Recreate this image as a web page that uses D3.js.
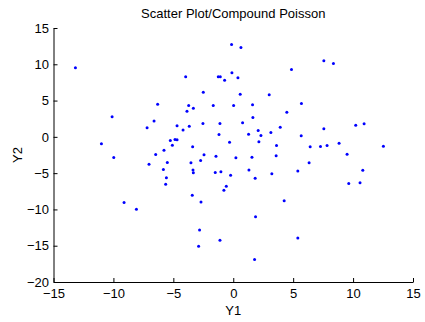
<!DOCTYPE html>
<html>
<head>
<meta charset="utf-8">
<script src="https://cdn.jsdelivr.net/npm/d3@7"></script>
<style>
  html, body { margin: 0; padding: 0; background: #fff; }
  svg text { font-family: "Liberation Sans", Arial, sans-serif; fill: #000; }
</style>
</head>
<body>
<div id="chart"></div>
<script>
const xValues = [
  -13.17, -0.14, 0.64, 7.56, 8.36, 4.86, -3.97, -1.25, -1.08, -0.72,
  -0.11, 0.39, -2.5, 0.58, 3.0, -6.31, -3.72, -3.33, -3.86, -1.67,
  0.03, 1.61, 5.69, 4.47, -10.11, -6.61, -7.19, -4.69, -3.67, -4.19,
  -2.53, -1.11, 0.78, 1.64, 3.92, 2.08, 1.28, 2.31, 3.14, 7.56,
  10.22, 10.92, 5.67, -1.19, -11.0, -9.97, -5.25, -4.86, -4.69, -5.08,
  -5.78, -6.47, -7.03, -5.5, -5.83, -5.58, -5.64, -3.39, -3.53, -3.36,
  -3.33, -2.44, -2.72, -1.44, -0.31, 0.22, -1.5, -1.03, -0.22, -0.58,
  -0.78, -3.42, -2.69, -2.81, -2.89, -1.11, -9.11, -8.08, 1.56, 1.31,
  1.83, 3.22, 3.58, 3.61, 6.42, 7.28, 7.83, 8.83, 12.53, 2.14,
  6.33, 5.39, 9.5, 9.64, 10.58, 10.81, 4.25, 1.86, 5.39, 1.78
];
const yValues = [
  9.51, 12.72, 12.31, 10.47, 10.11, 9.28, 8.27, 8.27, 8.27, 7.81,
  8.82, 8.13, 6.16, 5.88, 5.79, 4.50, 4.32, 3.95, 3.54, 4.32,
  4.32, 4.41, 4.59, 3.40, 2.76, 2.20, 1.24, 1.52, 1.47, 0.96,
  1.84, 1.84, 1.93, 2.66, 1.33, 0.87, 0.37, 0.18, 0.60, 1.10,
  1.61, 1.79, 0.14, 0.32, -0.96, -2.85, -0.51, -0.37, -0.41, -1.15,
  -1.84, -2.43, -3.77, -3.54, -4.50, -5.65, -6.52, -1.38, -3.58, -4.55,
  -4.96, -2.48, -3.26, -2.66, -0.73, -2.89, -4.92, -4.82, -5.28, -6.80,
  -7.35, -8.04, -8.96, -12.82, -15.07, -14.24, -9.05, -9.97, -2.80, -4.55,
  -5.70, -5.10, -2.62, -1.19, -1.38, -1.33, -1.19, -0.87, -1.29, -0.69,
  -3.58, -4.69, -2.39, -6.43, -6.34, -4.59, -8.82, -11.02, -13.92, -16.9
];
const xTicks = [-15, -10, -5, 0, 5, 10, 15];
const yTicks = [-20, -15, -10, -5, 0, 5, 10, 15];

const W = 425, H = 322;
const margin = { top: 28, right: 12, bottom: 40, left: 53.5 };
const innerW = W - margin.left - margin.right;
const innerH = H - margin.top - margin.bottom;
const fontSize = 13;

const svg = d3.select('#chart').append('svg')
  .attr('width', W).attr('height', H);

const g = svg.append('g').attr('transform', `translate(${margin.left},${margin.top})`);

const x = d3.scaleLinear().domain([-15, 15]).range([0, innerW]);
const y = d3.scaleLinear().domain([-20, 15]).range([innerH, 0]);

// axes, ticks pointing inward like MATLAB
const xAxis = g.append('g').attr('transform', `translate(0,${innerH})`)
  .call(d3.axisBottom(x).tickValues(xTicks).tickSize(-4).tickSizeOuter(0));
const yAxis = g.append('g')
  .call(d3.axisLeft(y).tickValues(yTicks).tickSize(-4).tickSizeOuter(0));

[xAxis, yAxis].forEach((a) => {
  a.selectAll('.domain, line').attr('stroke', '#000').attr('stroke-width', 1);
  a.selectAll('text').attr('font-size', fontSize).attr('fill', '#000')
    .style('font-family', '"Liberation Sans", Arial, sans-serif');
});
xAxis.selectAll('text').attr('dy', '0.71em').attr('y', 7);
yAxis.selectAll('text').attr('x', -4.5);

g.selectAll('circle').data(xValues).enter().append('circle')
  .attr('cx', (d) => x(d))
  .attr('cy', (d, i) => y(yValues[i]))
  .attr('r', 1.5)
  .attr('fill', '#0000ff');

svg.append('text').attr('x', margin.left + innerW / 2).attr('y', 18)
  .attr('text-anchor', 'middle').attr('font-size', fontSize).text('Scatter Plot/Compound Poisson');
svg.append('text').attr('x', margin.left + innerW / 2).attr('y', 315)
  .attr('text-anchor', 'middle').attr('font-size', fontSize).text('Y1');
svg.append('text').attr('transform', `translate(22,${margin.top + innerH / 2}) rotate(-90)`)
  .attr('text-anchor', 'middle').attr('font-size', fontSize).text('Y2');
</script>
</body>
</html>
